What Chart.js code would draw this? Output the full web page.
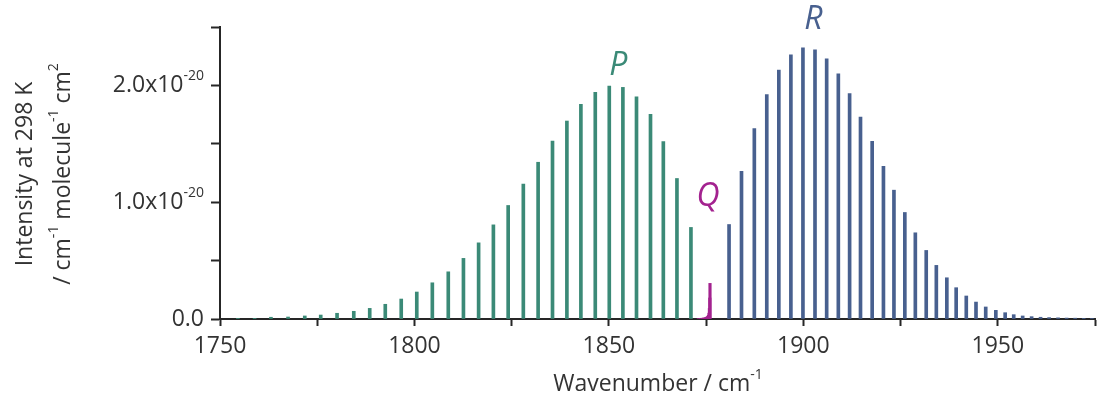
<!DOCTYPE html>
<html>
<head>
<meta charset="utf-8">
<script src="https://cdn.jsdelivr.net/npm/chart.js@4.4.1/dist/chart.umd.min.js"></script>
<style>
  html, body { margin: 0; padding: 0; background: #fff; }
  #chart { display: block; }
</style>
</head>
<body>
<canvas id="chart" width="1102" height="396"></canvas>
<script>
// line positions in cm-1, intensities in units of 1e-20 cm-1 / (molecule cm-2)
const pWavenumber = [1754.6, 1758.9, 1763.1, 1767.5, 1771.8, 1775.9, 1780.1, 1784.4, 1788.5, 1792.5,
  1796.6, 1800.6, 1804.6, 1808.7, 1812.6, 1816.5, 1820.3, 1824.1, 1828.0, 1831.8,
  1835.5, 1839.2, 1842.8, 1846.5, 1850.1, 1853.6, 1857.1, 1860.7, 1864.0, 1867.5, 1871.1];
const pIntensity = [0.006, 0.006, 0.015, 0.017, 0.026, 0.034, 0.049, 0.066, 0.091, 0.126,
  0.171, 0.231, 0.310, 0.404, 0.519, 0.652, 0.806, 0.972, 1.156, 1.342,
  1.524, 1.695, 1.838, 1.940, 1.994, 1.983, 1.903, 1.752, 1.519, 1.203, 0.784];

const qWavenumber = [1873.0, 1873.5, 1874.0, 1874.4, 1874.8, 1875.1, 1875.4, 1875.6, 1875.75, 1875.85, 1875.95, 1876.0];
const qIntensity = [0.004, 0.005, 0.007, 0.009, 0.012, 0.016, 0.022, 0.032, 0.05, 0.09, 0.18, 0.305];

const rWavenumber = [1880.9, 1884.1, 1887.4, 1890.6, 1893.7, 1896.8, 1899.9, 1903.0, 1906.0, 1909.0,
  1911.9, 1914.7, 1917.7, 1920.6, 1923.3, 1926.1, 1928.8, 1931.6, 1934.2, 1936.9,
  1939.3, 1941.9, 1944.4, 1946.9, 1949.5, 1951.9, 1954.1, 1956.4, 1958.7, 1961.0,
  1963.2, 1965.5, 1967.7, 1969.9, 1972.1, 1974.2];
const rIntensity = [0.809, 1.265, 1.630, 1.921, 2.131, 2.262, 2.322, 2.305, 2.228, 2.100,
  1.929, 1.729, 1.521, 1.308, 1.103, 0.912, 0.738, 0.587, 0.459, 0.353,
  0.268, 0.197, 0.145, 0.103, 0.074, 0.054, 0.037, 0.026, 0.020, 0.015,
  0.012, 0.010, 0.008, 0.007, 0.006, 0.005];

const branchLabels = ['P', 'Q', 'R'];
const yLabelValues = [0, 1, 2];

const FONT = '"Open Sans", "DejaVu Sans", sans-serif';
const TEXT_COLOR = '#333333';
const AXIS_COLOR = '#262626';
const COLORS = { P: '#3b8a77', Q: '#a3228f', R: '#48608f' };

function toPoints(xs, ys) {
  return xs.map((x, i) => ({ x: x, y: ys[i] }));
}

// draws text made of [text, isSuperscript] pieces
function drawRich(ctx, parts, x, y, align, size) {
  const supSize = Math.round(size * 0.6);
  let total = 0;
  const widths = parts.map(([t, sup]) => {
    ctx.font = `${sup ? supSize : size}px ${FONT}`;
    const w = ctx.measureText(t).width;
    total += w;
    return w;
  });
  let cx = align === 'right' ? x - total : align === 'center' ? x - total / 2 : x;
  ctx.textAlign = 'left';
  ctx.textBaseline = 'middle';
  parts.forEach(([t, sup], i) => {
    ctx.font = `${sup ? supSize : size}px ${FONT}`;
    ctx.fillText(t, cx, sup ? y - size * 0.4 : y);
    cx += widths[i];
  });
}

const textPlugin = {
  id: 'spectrumText',
  afterDraw(chart) {
    const { ctx, scales: { x, y } } = chart;
    ctx.save();
    ctx.fillStyle = TEXT_COLOR;

    // y tick labels with superscript exponent
    yLabelValues.forEach(v => {
      const py = y.getPixelForValue(v);
      const parts = v === 0 ? [['0.0']] : [[v.toFixed(1) + 'x10'], ['-20', true]];
      drawRich(ctx, parts, y.right - 16, py, 'right', 23);
    });

    // axis titles
    drawRich(ctx, [['Wavenumber / cm'], ['-1', true]], 658, 384, 'center', 23);
    ctx.save();
    ctx.translate(25, 174);
    ctx.rotate(-Math.PI / 2);
    drawRich(ctx, [['Intensity at 298 K']], 0, 0, 'center', 23);
    ctx.restore();
    ctx.save();
    ctx.translate(63, 174);
    ctx.rotate(-Math.PI / 2);
    drawRich(ctx, [['/ cm'], ['-1', true], [' molecule'], ['-1', true], [' cm'], ['2', true]], 0, 0, 'center', 23);
    ctx.restore();

    // branch labels
    const spots = { P: [1852.4, 2.17], Q: [1875.5, 1.045], R: [1902.6, 2.56] };
    ctx.textAlign = 'center';
    ctx.textBaseline = 'middle';
    ctx.font = `italic 32px ${FONT}`;
    branchLabels.forEach(b => {
      ctx.fillStyle = COLORS[b];
      ctx.fillText(b, x.getPixelForValue(spots[b][0]), y.getPixelForValue(spots[b][1]));
    });
    ctx.restore();
  }
};

function stickSet(label, xs, ys, color, thickness) {
  return {
    label: label,
    data: toPoints(xs, ys),
    backgroundColor: color,
    borderWidth: 0,
    barThickness: thickness,
    grouped: false
  };
}

new Chart(document.getElementById('chart'), {
  type: 'bar',
  data: {
    datasets: [
      stickSet('P', pWavenumber, pIntensity, COLORS.P, 3),
      stickSet('R', rWavenumber, rIntensity, COLORS.R, 3),
      stickSet('Q', qWavenumber, qIntensity, COLORS.Q, 2.5)
    ]
  },
  options: {
    responsive: false,
    animation: false,
    layout: { padding: { top: 27, right: 4, left: 0, bottom: 0 } },
    plugins: { legend: { display: false }, tooltip: { enabled: false } },
    scales: {
      x: {
        type: 'linear',
        min: 1750,
        max: 1975,
        offset: false,
        grid: { offset: false, drawOnChartArea: false, tickLength: 7, tickColor: AXIS_COLOR, tickWidth: 2 },
        border: { color: AXIS_COLOR, width: 2 },
        ticks: {
          stepSize: 25,
          autoSkip: false,
          maxRotation: 0,
          padding: 7,
          color: TEXT_COLOR,
          font: { family: FONT, size: 23 },
          callback: v => (v % 50 === 0 ? String(v) : '')
        },
        afterFit: s => { s.height = 77; }
      },
      y: {
        min: 0,
        max: 2.5,
        grid: { drawOnChartArea: false, tickLength: 9, tickColor: AXIS_COLOR, tickWidth: 2 },
        border: { color: AXIS_COLOR, width: 2 },
        ticks: { stepSize: 0.5, callback: () => '' },
        afterFit: s => { s.width = 220; }
      }
    }
  },
  plugins: [textPlugin]
});
</script>
</body>
</html>
